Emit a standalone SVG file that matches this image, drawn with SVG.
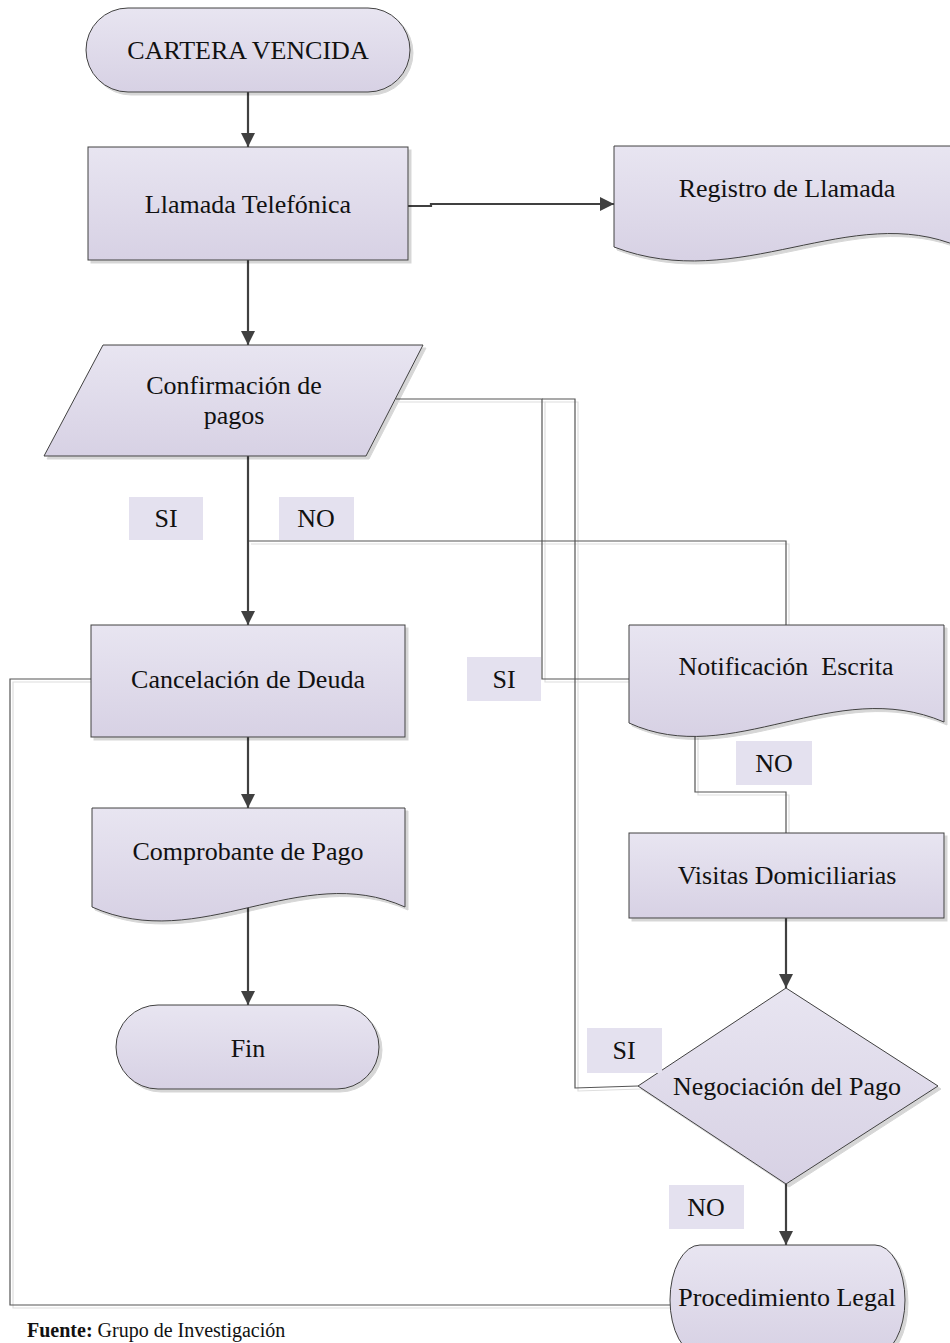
<svg xmlns="http://www.w3.org/2000/svg" width="950" height="1343" viewBox="0 0 950 1343">
  <defs>
    <linearGradient id="lav" x1="0" y1="0" x2="0" y2="1">
      <stop offset="0" stop-color="#e8e5f1"/>
      <stop offset="1" stop-color="#d7d1e4"/>
    </linearGradient>
    <filter id="shadow" x="-5%" y="-5%" width="115%" height="120%">
      <feOffset in="SourceAlpha" dx="3" dy="3" result="off"/>
      <feFlood flood-color="#000" flood-opacity="0.16"/>
      <feComposite in2="off" operator="in" result="sh"/>
      <feMerge><feMergeNode in="sh"/><feMergeNode in="SourceGraphic"/></feMerge>
    </filter>
    <marker id="arrow" viewBox="0 0 14 14" refX="14" refY="7" markerWidth="14" markerHeight="14" markerUnits="userSpaceOnUse" orient="auto">
      <path d="M0,0 L14,7 L0,14 z" fill="#404040"/>
    </marker>
  </defs>
  <style>
    .shape { fill: url(#lav); stroke: #404040; stroke-width: 1; filter: url(#shadow); }
    .txt { font-family: "Liberation Serif", "Times New Roman", serif; font-size: 26px; fill: #111; text-anchor: middle; }
    .tag { fill: #e4e1ef; }
    .flow { fill: none; stroke: #404040; stroke-width: 2.2; marker-end: url(#arrow); }
    .link { fill: none; stroke: #555; stroke-width: 1.2; }
    .link-sh { fill: none; stroke: #dedede; stroke-width: 1.2; }
  </style>

  <rect width="950" height="1343" fill="#fff"/>

  <!-- connectors -->
  <g id="connectors">
    <g transform="translate(3,3)">
      <path class="link-sh" d="M248,541 H786 V625"/>
      <path class="link-sh" d="M396,399 H542 V679 H629"/>
      <path class="link-sh" d="M542,399 H575 V1088 L638,1086"/>
      <path class="link-sh" d="M695,735 V792 H786 V833"/>
      <path class="link-sh" d="M91,679 H10 V1305 H670"/>
    </g>
    <path class="link" d="M248,541 H786 V625"/>
    <path class="link" d="M396,399 H542 V679 H629"/>
    <path class="link" d="M542,399 H575 V1088 L638,1086"/>
    <path class="link" d="M695,735 V792 H786 V833"/>
    <path class="link" d="M91,679 H10 V1305 H670"/>

    <path class="flow" d="M248,92 V147"/>
    <path class="flow" d="M408,206 H431 V204 H614"/>
    <path class="flow" d="M248,260 V345"/>
    <path class="flow" d="M248,456 V625"/>
    <path class="flow" d="M248,737 V808"/>
    <path class="flow" d="M248,904 V1005"/>
    <path class="flow" d="M786,918 V988"/>
    <path class="flow" d="M786,1184 V1245"/>
  </g>

  <!-- nodes -->
  <g id="cartera-vencida">
    <rect class="shape" x="86" y="8" width="324" height="84" rx="42" ry="42"/>
    <text class="txt" x="248" y="59">CARTERA VENCIDA</text>
  </g>

  <g id="llamada-telefonica">
    <rect class="shape" x="88" y="147" width="320" height="113"/>
    <text class="txt" x="248" y="213">Llamada Telefónica</text>
  </g>

  <g id="registro-llamada">
    <path class="shape" d="M614,146 H960 V247 C850,200 740,295 614,247 Z"/>
    <text class="txt" x="787" y="197">Registro de Llamada</text>
  </g>

  <g id="confirmacion-pagos">
    <polygon class="shape" points="103,345 423,345 366,456 44,456"/>
    <text class="txt" x="234" y="394">Confirmación de</text>
    <text class="txt" x="234" y="424">pagos</text>
  </g>

  <g id="cancelacion-deuda">
    <rect class="shape" x="91" y="625" width="314" height="112"/>
    <text class="txt" x="248" y="688">Cancelación de Deuda</text>
  </g>

  <g id="notificacion-escrita">
    <path class="shape" d="M629,625 H944 V722 C834,675 732,770 629,723 Z"/>
    <text class="txt" x="786" y="675" xml:space="preserve">Notificación  Escrita</text>
  </g>

  <g id="comprobante-pago">
    <path class="shape" d="M92,808 H405 V907 C300,860 200,955 92,907 Z"/>
    <text class="txt" x="248" y="860">Comprobante de Pago</text>
  </g>

  <g id="visitas-domiciliarias">
    <rect class="shape" x="629" y="833" width="315" height="85"/>
    <text class="txt" x="787" y="884">Visitas Domiciliarias</text>
  </g>

  <g id="fin">
    <rect class="shape" x="116" y="1005" width="263" height="84" rx="42" ry="42"/>
    <text class="txt" x="248" y="1057">Fin</text>
  </g>

  <g id="negociacion-pago">
    <polygon class="shape" points="786,988 938,1086 786,1184 638,1086"/>
    <text class="txt" x="787" y="1095">Negociación del Pago</text>
  </g>

  <g id="procedimiento-legal">
    <rect class="shape" x="670" y="1245" width="235" height="110" rx="30" ry="55"/>
    <text class="txt" x="787" y="1306">Procedimiento Legal</text>
  </g>

  <!-- branch tags -->
  <g id="tags">
    <rect class="tag" x="129" y="497" width="74" height="43"/>
    <text class="txt" x="166" y="527">SI</text>
    <rect class="tag" x="279" y="497" width="75" height="43"/>
    <text class="txt" x="316" y="527">NO</text>
    <rect class="tag" x="467" y="657" width="74" height="44"/>
    <text class="txt" x="504" y="688">SI</text>
    <rect class="tag" x="736" y="741" width="76" height="44"/>
    <text class="txt" x="774" y="772">NO</text>
    <rect class="tag" x="587" y="1028" width="75" height="45"/>
    <text class="txt" x="624" y="1059">SI</text>
    <rect class="tag" x="669" y="1185" width="75" height="44"/>
    <text class="txt" x="706" y="1216">NO</text>
  </g>

  <text x="27" y="1337" font-family="'Liberation Serif', 'Times New Roman', serif" font-size="20" fill="#111"><tspan font-weight="bold">Fuente:</tspan> Grupo de Investigación</text>
</svg>
